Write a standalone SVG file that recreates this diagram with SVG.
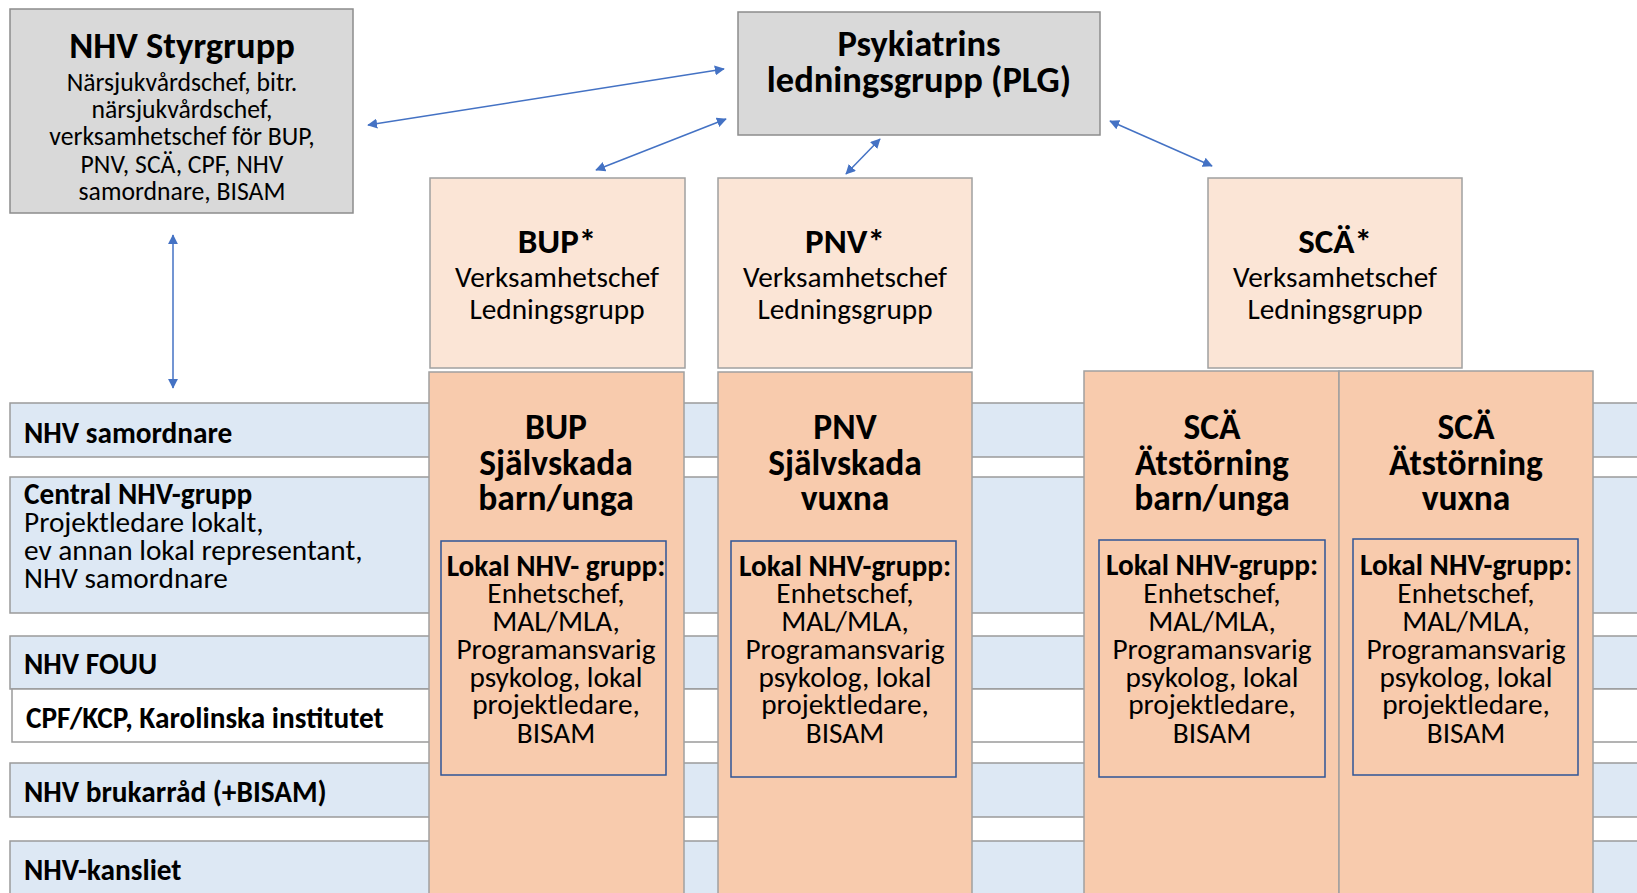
<svg xmlns="http://www.w3.org/2000/svg" width="1637" height="893" viewBox="0 0 1637 893">
  <defs>
    <style>
      text { font-family: Carlito, Calibri, Lato, "Liberation Sans", sans-serif; fill: #000; }
      .b { font-weight: bold; }
      .c { text-anchor: middle; }
      .gray { fill: #d9d9d9; stroke: #8c8c8c; stroke-width: 1.5; }
      .band { fill: #dde8f4; stroke: #9a9a9a; stroke-width: 1.5; }
      .bandw { fill: #ffffff; stroke: #9a9a9a; stroke-width: 1.5; }
      .head { fill: #fbe5d6; stroke: #a0a0a0; stroke-width: 1.5; }
      .col { fill: #f8cbad; stroke: #a0a0a0; stroke-width: 1.5; }
      .local { fill: none; stroke: #2f5597; stroke-width: 1.5; }
      .link { stroke: #4472c4; stroke-width: 1.5; fill: none; marker-start: url(#ah); marker-end: url(#ah); }
      .title { font-size: 36.5px; }
      .colt { font-size: 35.5px; }
      .star { font-size: 35px; }
      .body { font-size: 29.3px; }
      .small { font-size: 25.7px; }
    </style>
    <marker id="ah" viewBox="0 0 12 12" refX="11" refY="6" markerWidth="10" markerHeight="10" markerUnits="userSpaceOnUse" orient="auto-start-reverse">
      <path d="M0,0 L12,6 L0,12 Z" fill="#4472c4"/>
    </marker>
  </defs>

  <rect width="1637" height="893" fill="#ffffff"/>

  <!-- horizontal bands across the whole width -->
  <g id="band-samordnare">
    <rect class="band" x="10" y="403" width="1640" height="54"/>
    <text class="b body" x="24" y="443">NHV samordnare</text>
  </g>
  <g id="band-central">
    <rect class="band" x="10" y="477" width="1640" height="136"/>
    <text class="b body" x="24" y="504">Central NHV-grupp</text>
    <text class="body" x="24" y="532">Projektledare lokalt,</text>
    <text class="body" x="24" y="560">ev annan lokal representant,</text>
    <text class="body" x="24" y="588">NHV samordnare</text>
  </g>
  <g id="band-fouu">
    <rect class="band" x="10" y="636" width="1640" height="53"/>
    <text class="b body" x="24" y="674">NHV FOUU</text>
  </g>
  <g id="band-cpf">
    <rect class="bandw" x="12" y="689" width="1640" height="53"/>
    <text class="b body" x="26" y="728">CPF/KCP, Karolinska institutet</text>
  </g>
  <g id="band-brukarrad">
    <rect class="band" x="10" y="763" width="1640" height="54"/>
    <text class="b body" x="24" y="802">NHV brukarråd (+BISAM)</text>
  </g>
  <g id="band-kansliet">
    <rect class="band" x="10" y="841" width="1640" height="60"/>
    <text class="b body" x="24" y="880">NHV-kansliet</text>
  </g>

  <!-- steering group -->
  <g id="styrgrupp">
    <rect class="gray" x="10" y="9" width="343" height="204"/>
    <text class="b title c" x="182" y="58">NHV Styrgrupp</text>
    <text class="small c" x="182" y="90.7">Närsjukvårdschef, bitr.</text>
    <text class="small c" x="182" y="118">närsjukvårdschef,</text>
    <text class="small c" x="182" y="145.4">verksamhetschef för BUP,</text>
    <text class="small c" x="182" y="172.7">PNV, SCÄ, CPF, NHV</text>
    <text class="small c" x="182" y="200">samordnare, BISAM</text>
  </g>

  <!-- psychiatry management -->
  <g id="plg">
    <rect class="gray" x="738" y="12" width="362" height="123"/>
    <text class="b title c" x="919" y="56">Psykiatrins</text>
    <text class="b title c" x="919" y="92">ledningsgrupp (PLG)</text>
  </g>

  <!-- BUP -->
  <g id="bup-head">
    <rect class="head" x="430" y="178" width="255" height="190"/>
    <text class="b star c" x="557" y="253">BUP*</text>
    <text class="body c" x="557" y="287">Verksamhetschef</text>
    <text class="body c" x="557" y="319">Ledningsgrupp</text>
  </g>
  <g id="bup-col">
    <rect class="col" x="429" y="372" width="255" height="530"/>
    <text class="b colt c" x="556" y="439">BUP</text>
    <text class="b colt c" x="556" y="475">Självskada</text>
    <text class="b colt c" x="556" y="510">barn/unga</text>
    <rect class="local" x="441" y="541" width="225" height="234"/>
    <text class="b body c" x="556" y="576">Lokal NHV- grupp:</text>
    <text class="body c" x="556" y="603">Enhetschef,</text>
    <text class="body c" x="556" y="631">MAL/MLA,</text>
    <text class="body c" x="556" y="659">Programansvarig</text>
    <text class="body c" x="556" y="687">psykolog, lokal</text>
    <text class="body c" x="556" y="714">projektledare,</text>
    <text class="body c" x="556" y="743">BISAM</text>
  </g>

  <!-- PNV -->
  <g id="pnv-head">
    <rect class="head" x="718" y="178" width="254" height="190"/>
    <text class="b star c" x="845" y="253">PNV*</text>
    <text class="body c" x="845" y="287">Verksamhetschef</text>
    <text class="body c" x="845" y="319">Ledningsgrupp</text>
  </g>
  <g id="pnv-col">
    <rect class="col" x="718" y="372" width="254" height="530"/>
    <text class="b colt c" x="845" y="439">PNV</text>
    <text class="b colt c" x="845" y="475">Självskada</text>
    <text class="b colt c" x="845" y="510">vuxna</text>
    <rect class="local" x="731" y="541" width="225" height="236"/>
    <text class="b body c" x="845" y="576">Lokal NHV-grupp:</text>
    <text class="body c" x="845" y="603">Enhetschef,</text>
    <text class="body c" x="845" y="631">MAL/MLA,</text>
    <text class="body c" x="845" y="659">Programansvarig</text>
    <text class="body c" x="845" y="687">psykolog, lokal</text>
    <text class="body c" x="845" y="714">projektledare,</text>
    <text class="body c" x="845" y="743">BISAM</text>
  </g>

  <!-- SCÄ -->
  <g id="sca-head">
    <rect class="head" x="1208" y="178" width="254" height="190"/>
    <text class="b star c" x="1335" y="253">SCÄ*</text>
    <text class="body c" x="1335" y="287">Verksamhetschef</text>
    <text class="body c" x="1335" y="319">Ledningsgrupp</text>
  </g>
  <g id="sca-barn-col">
    <rect class="col" x="1084" y="371" width="255" height="531"/>
    <text class="b colt c" x="1212" y="439">SCÄ</text>
    <text class="b colt c" x="1212" y="475">Ätstörning</text>
    <text class="b colt c" x="1212" y="510">barn/unga</text>
    <rect class="local" x="1099" y="540" width="226" height="237"/>
    <text class="b body c" x="1212" y="575">Lokal NHV-grupp:</text>
    <text class="body c" x="1212" y="603">Enhetschef,</text>
    <text class="body c" x="1212" y="631">MAL/MLA,</text>
    <text class="body c" x="1212" y="659">Programansvarig</text>
    <text class="body c" x="1212" y="687">psykolog, lokal</text>
    <text class="body c" x="1212" y="714">projektledare,</text>
    <text class="body c" x="1212" y="743">BISAM</text>
  </g>
  <g id="sca-vuxna-col">
    <rect class="col" x="1339" y="371" width="254" height="531"/>
    <text class="b colt c" x="1466" y="439">SCÄ</text>
    <text class="b colt c" x="1466" y="475">Ätstörning</text>
    <text class="b colt c" x="1466" y="510">vuxna</text>
    <rect class="local" x="1353" y="539" width="225" height="236"/>
    <text class="b body c" x="1466" y="575">Lokal NHV-grupp:</text>
    <text class="body c" x="1466" y="603">Enhetschef,</text>
    <text class="body c" x="1466" y="631">MAL/MLA,</text>
    <text class="body c" x="1466" y="659">Programansvarig</text>
    <text class="body c" x="1466" y="687">psykolog, lokal</text>
    <text class="body c" x="1466" y="714">projektledare,</text>
    <text class="body c" x="1466" y="743">BISAM</text>
  </g>

  <!-- two-way connectors -->
  <g id="connectors">
    <line class="link" x1="368" y1="125" x2="724" y2="69"/>
    <line class="link" x1="596" y1="170" x2="726" y2="119"/>
    <line class="link" x1="846" y1="174" x2="880" y2="139"/>
    <line class="link" x1="1110" y1="121" x2="1212" y2="166"/>
    <line class="link" x1="173" y1="235" x2="173" y2="388"/>
  </g>
</svg>
